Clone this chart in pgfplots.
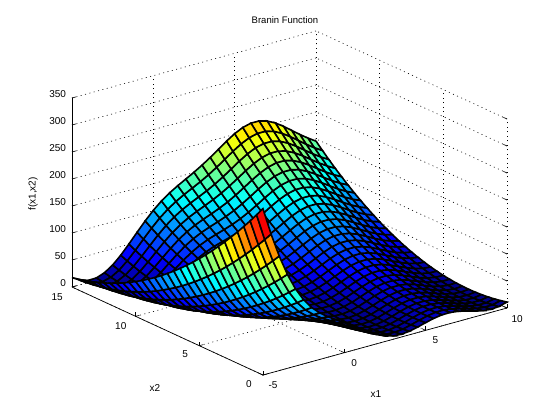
\documentclass[border=0pt]{standalone}
\usepackage{fontspec}
\setmainfont{Liberation Sans}
\usepackage{pgfplots}
\pgfplotsset{compat=1.18}
\begin{document}
\begin{tikzpicture}[x=1pt,y=1pt]
\path[use as bounding box] (0,0) rectangle (560,420);
\begin{axis}[anchor=origin,at={(344.3pt,67.3pt)},
x={(16.27pt,4.47pt)},y={(-12.73pt,5.87pt)},z={(0pt,0.54pt)},
xmin=-5,xmax=10,ymin=0,ymax=15,zmin=0,zmax=350,
xtick={-5,0,5,10},ytick={0,5,10,15},ztick={0,50,...,350},
xtick pos=lower,ytick pos=lower,ztick pos=lower,
grid=major,grid style={black,line width=0.6pt,dash pattern=on 1pt off 3.5pt},
axis line style={draw=none},
tick style={black,line width=0.6pt},major tick length=4pt,
tick label style={font=\fontsize{10}{11}\selectfont},
xticklabel style={xshift=5pt,yshift=-2.5pt},
yticklabel style={xshift=-8.5pt,yshift=-1.5pt},
zticklabel style={xshift=-2.5pt,yshift=3pt},
/pgf/number format/assume math mode=true,
colormap={mjet}{rgb=(0,0,.5) rgb=(0,0,1) rgb=(0,.5,1) rgb=(0,1,1) rgb=(.5,1,.5) rgb=(1,1,0) rgb=(1,.5,0) rgb=(1,0,0) rgb=(.5,0,0)},
point meta min=0,point meta max=310,clip=false]
\addplot3[surf,shader=faceted,faceted color=black,line width=1.6pt,z buffer=sort,mesh/ordering=y varies,mesh/rows=31,mesh/cols=31] coordinates {
(-5,0,308.1)(-5,.5,291.2)(-5,1,274.7)(-5,1.5,258.8)(-5,2,243.4)(-5,2.5,228.4)(-5,3,214)(-5,3.5,200.1)(-5,4,186.6)(-5,4.5,173.7)(-5,5,161.2)(-5,5.5,149.3)(-5,6,137.9)(-5,6.5,126.9)(-5,7,116.5)(-5,7.5,106.6)(-5,8,97.1)(-5,8.5,88.2)(-5,9,79.8)(-5,9.5,71.8)(-5,10,64.4)(-5,10.5,57.4)(-5,11,51)(-5,11.5,45.1)(-5,12,39.6)(-5,12.5,34.7)(-5,13,30.3)(-5,13.5,26.3)(-5,14,22.9)(-5,14.5,19.9)(-5,15,17.5)
(-4.5,0,256.9)(-4.5,.5,241.4)(-4.5,1,226.4)(-4.5,1.5,211.8)(-4.5,2,197.8)(-4.5,2.5,184.3)(-4.5,3,171.3)(-4.5,3.5,158.7)(-4.5,4,146.7)(-4.5,4.5,135.2)(-4.5,5,124.2)(-4.5,5.5,113.6)(-4.5,6,103.6)(-4.5,6.5,94.1)(-4.5,7,85)(-4.5,7.5,76.5)(-4.5,8,68.5)(-4.5,8.5,61)(-4.5,9,53.9)(-4.5,9.5,47.4)(-4.5,10,41.4)(-4.5,10.5,35.8)(-4.5,11,30.8)(-4.5,11.5,26.3)(-4.5,12,22.3)(-4.5,12.5,18.7)(-4.5,13,15.7)(-4.5,13.5,13.2)(-4.5,14,11.1)(-4.5,14.5,9.6)(-4.5,15,8.6)
(-4,0,212)(-4,.5,197.9)(-4,1,184.2)(-4,1.5,171)(-4,2,158.3)(-4,2.5,146.1)(-4,3,134.4)(-4,3.5,123.3)(-4,4,112.6)(-4,4.5,102.4)(-4,5,92.7)(-4,5.5,83.5)(-4,6,74.8)(-4,6.5,66.7)(-4,7,59)(-4,7.5,51.8)(-4,8,45.1)(-4,8.5,38.9)(-4,9,33.2)(-4,9.5,28.1)(-4,10,23.4)(-4,10.5,19.2)(-4,11,15.5)(-4,11.5,12.3)(-4,12,9.6)(-4,12.5,7.5)(-4,13,5.8)(-4,13.5,4.6)(-4,14,3.9)(-4,14.5,3.7)(-4,15,4)
(-3.5,0,174)(-3.5,.5,161.1)(-3.5,1,148.7)(-3.5,1.5,136.8)(-3.5,2,125.4)(-3.5,2.5,114.5)(-3.5,3,104.1)(-3.5,3.5,94.2)(-3.5,4,84.8)(-3.5,4.5,75.9)(-3.5,5,67.5)(-3.5,5.5,59.6)(-3.5,6,52.2)(-3.5,6.5,45.3)(-3.5,7,38.9)(-3.5,7.5,33)(-3.5,8,27.6)(-3.5,8.5,22.7)(-3.5,9,18.3)(-3.5,9.5,14.4)(-3.5,10,11)(-3.5,10.5,8.1)(-3.5,11,5.7)(-3.5,11.5,3.7)(-3.5,12,2.3)(-3.5,12.5,1.4)(-3.5,13,1)(-3.5,13.5,1.1)(-3.5,14,1.7)(-3.5,14.5,2.8)(-3.5,15,4.4)
(-3,0,143)(-3,.5,131.3)(-3,1,120.1)(-3,1.5,109.4)(-3,2,99.2)(-3,2.5,89.6)(-3,3,80.4)(-3,3.5,71.7)(-3,4,63.5)(-3,4.5,55.8)(-3,5,48.6)(-3,5.5,41.9)(-3,6,35.7)(-3,6.5,30.1)(-3,7,24.9)(-3,7.5,20.2)(-3,8,16)(-3,8.5,12.3)(-3,9,9.1)(-3,9.5,6.4)(-3,10,4.2)(-3,10.5,2.6)(-3,11,1.4)(-3,11.5,.7)(-3,12,.5)(-3,12.5,.8)(-3,13,1.6)(-3,13.5,2.9)(-3,14,4.8)(-3,14.5,7.1)(-3,15,9.9)
(-2.5,0,118.7)(-2.5,.5,108.1)(-2.5,1,98.1)(-2.5,1.5,88.5)(-2.5,2,79.5)(-2.5,2.5,71)(-2.5,3,62.9)(-2.5,3.5,55.4)(-2.5,4,48.4)(-2.5,4.5,41.8)(-2.5,5,35.8)(-2.5,5.5,30.3)(-2.5,6,25.2)(-2.5,6.5,20.7)(-2.5,7,16.6)(-2.5,7.5,13.1)(-2.5,8,10.1)(-2.5,8.5,7.5)(-2.5,9,5.5)(-2.5,9.5,4)(-2.5,10,2.9)(-2.5,10.5,2.4)(-2.5,11,2.4)(-2.5,11.5,2.8)(-2.5,12,3.8)(-2.5,12.5,5.3)(-2.5,13,7.2)(-2.5,13.5,9.7)(-2.5,14,12.6)(-2.5,14.5,16.1)(-2.5,15,20.1)
(-2,0,100.1)(-2,.5,90.6)(-2,1,81.7)(-2,1.5,73.2)(-2,2,65.3)(-2,2.5,57.8)(-2,3,50.9)(-2,3.5,44.4)(-2,4,38.5)(-2,4.5,33)(-2,5,28.1)(-2,5.5,23.6)(-2,6,19.7)(-2,6.5,16.2)(-2,7,13.3)(-2,7.5,10.8)(-2,8,8.9)(-2,8.5,7.4)(-2,9,6.5)(-2,9.5,6)(-2,10,6.1)(-2,10.5,6.6)(-2,11,7.7)(-2,11.5,9.2)(-2,12,11.3)(-2,12.5,13.8)(-2,13,16.9)(-2,13.5,20.4)(-2,14,24.5)(-2,14.5,29)(-2,15,34.1)
(-1.5,0,86)(-1.5,.5,77.6)(-1.5,1,69.6)(-1.5,1.5,62.2)(-1.5,2,55.3)(-1.5,2.5,48.9)(-1.5,3,42.9)(-1.5,3.5,37.5)(-1.5,4,32.6)(-1.5,4.5,28.1)(-1.5,5,24.2)(-1.5,5.5,20.8)(-1.5,6,17.9)(-1.5,6.5,15.4)(-1.5,7,13.5)(-1.5,7.5,12.1)(-1.5,8,11.1)(-1.5,8.5,10.7)(-1.5,9,10.8)(-1.5,9.5,11.4)(-1.5,10,12.4)(-1.5,10.5,14)(-1.5,11,16.1)(-1.5,11.5,18.6)(-1.5,12,21.7)(-1.5,12.5,25.3)(-1.5,13,29.4)(-1.5,13.5,33.9)(-1.5,14,39)(-1.5,14.5,44.6)(-1.5,15,50.7)
(-1,0,74.8)(-1,.5,67.3)(-1,1,60.4)(-1,1.5,53.9)(-1,2,47.9)(-1,2.5,42.5)(-1,3,37.5)(-1,3.5,33)(-1,4,29)(-1,4.5,25.6)(-1,5,22.6)(-1,5.5,20.1)(-1,6,18.2)(-1,6.5,16.7)(-1,7,15.7)(-1,7.5,15.2)(-1,8,15.3)(-1,8.5,15.8)(-1,9,16.8)(-1,9.5,18.4)(-1,10,20.4)(-1,10.5,22.9)(-1,11,25.9)(-1,11.5,29.5)(-1,12,33.5)(-1,12.5,38)(-1,13,43.1)(-1,13.5,48.6)(-1,14,54.6)(-1,14.5,61.2)(-1,15,68.2)
(-.5,0,65.1)(-.5,.5,58.5)(-.5,1,52.4)(-.5,1.5,46.8)(-.5,2,41.7)(-.5,2.5,37.2)(-.5,3,33.1)(-.5,3.5,29.5)(-.5,4,26.4)(-.5,4.5,23.9)(-.5,5,21.8)(-.5,5.5,20.2)(-.5,6,19.1)(-.5,6.5,18.5)(-.5,7,18.5)(-.5,7.5,18.9)(-.5,8,19.8)(-.5,8.5,21.2)(-.5,9,23.2)(-.5,9.5,25.6)(-.5,10,28.5)(-.5,10.5,31.9)(-.5,11,35.8)(-.5,11.5,40.3)(-.5,12,45.2)(-.5,12.5,50.6)(-.5,13,56.5)(-.5,13.5,63)(-.5,14,69.9)(-.5,14.5,77.3)(-.5,15,85.2)
(0,0,55.6)(0,.5,49.9)(0,1,44.6)(0,1.5,39.9)(0,2,35.6)(0,2.5,31.9)(0,3,28.6)(0,3.5,25.9)(0,4,23.6)(0,4.5,21.9)(0,5,20.6)(0,5.5,19.9)(0,6,19.6)(0,6.5,19.9)(0,7,20.6)(0,7.5,21.9)(0,8,23.6)(0,8.5,25.9)(0,9,28.6)(0,9.5,31.9)(0,10,35.6)(0,10.5,39.9)(0,11,44.6)(0,11.5,49.9)(0,12,55.6)(0,12.5,61.9)(0,13,68.6)(0,13.5,75.9)(0,14,83.6)(0,14.5,91.9)(0,15,100.6)
(.5,0,45.9)(.5,.5,40.9)(.5,1,36.4)(.5,1.5,32.4)(.5,2,28.9)(.5,2.5,25.9)(.5,3,23.4)(.5,3.5,21.5)(.5,4,20)(.5,4.5,19)(.5,5,18.5)(.5,5.5,18.5)(.5,6,19)(.5,6.5,20)(.5,7,21.5)(.5,7.5,23.6)(.5,8,26.1)(.5,8.5,29.1)(.5,9,32.6)(.5,9.5,36.6)(.5,10,41.1)(.5,10.5,46.1)(.5,11,51.7)(.5,11.5,57.7)(.5,12,64.2)(.5,12.5,71.2)(.5,13,78.7)(.5,13.5,86.7)(.5,14,95.2)(.5,14.5,104.2)(.5,15,113.8)
(1,0,35.8)(1,.5,31.5)(1,1,27.7)(1,1.5,24.4)(1,2,21.6)(1,2.5,19.3)(1,3,17.6)(1,3.5,16.3)(1,4,15.5)(1,4.5,15.2)(1,5,15.4)(1,5.5,16.1)(1,6,17.3)(1,6.5,19)(1,7,21.3)(1,7.5,24)(1,8,27.2)(1,8.5,30.9)(1,9,35.1)(1,9.5,39.8)(1,10,45)(1,10.5,50.7)(1,11,57)(1,11.5,63.7)(1,12,70.9)(1,12.5,78.6)(1,13,86.8)(1,13.5,95.5)(1,14,104.7)(1,14.5,114.4)(1,15,124.6)
(1.5,0,25.9)(1.5,.5,22.3)(1.5,1,19.1)(1.5,1.5,16.5)(1.5,2,14.3)(1.5,2.5,12.7)(1.5,3,11.5)(1.5,3.5,10.8)(1.5,4,10.7)(1.5,4.5,11)(1.5,5,11.9)(1.5,5.5,13.2)(1.5,6,15.1)(1.5,6.5,17.4)(1.5,7,20.3)(1.5,7.5,23.6)(1.5,8,27.5)(1.5,8.5,31.8)(1.5,9,36.7)(1.5,9.5,42)(1.5,10,47.9)(1.5,10.5,54.2)(1.5,11,61.1)(1.5,11.5,68.4)(1.5,12,76.2)(1.5,12.5,84.6)(1.5,13,93.4)(1.5,13.5,102.8)(1.5,14,112.6)(1.5,14.5,123)(1.5,15,133.8)
(2,0,17.1)(2,.5,14)(2,1,11.5)(2,1.5,9.4)(2,2,7.8)(2,2.5,6.7)(2,3,6.1)(2,3.5,6)(2,4,6.4)(2,4.5,7.4)(2,5,8.8)(2,5.5,10.7)(2,6,13.1)(2,6.5,16)(2,7,19.4)(2,7.5,23.4)(2,8,27.8)(2,8.5,32.7)(2,9,38.1)(2,9.5,44)(2,10,50.4)(2,10.5,57.4)(2,11,64.8)(2,11.5,72.7)(2,12,81.1)(2,12.5,90)(2,13,99.4)(2,13.5,109.4)(2,14,119.8)(2,14.5,130.7)(2,15,142.1)
(2.5,0,10.3)(2.5,.5,7.7)(2.5,1,5.7)(2.5,1.5,4.1)(2.5,2,3)(2.5,2.5,2.4)(2.5,3,2.3)(2.5,3.5,2.8)(2.5,4,3.7)(2.5,4.5,5.1)(2.5,5,7)(2.5,5.5,9.5)(2.5,6,12.4)(2.5,6.5,15.8)(2.5,7,19.7)(2.5,7.5,24.1)(2.5,8,29.1)(2.5,8.5,34.5)(2.5,9,40.4)(2.5,9.5,46.8)(2.5,10,53.7)(2.5,10.5,61.2)(2.5,11,69.1)(2.5,11.5,77.5)(2.5,12,86.4)(2.5,12.5,95.9)(2.5,13,105.8)(2.5,13.5,116.2)(2.5,14,127.1)(2.5,14.5,138.5)(2.5,15,150.5)
(3,0,6.2)(3,.5,4.1)(3,1,2.4)(3,1.5,1.3)(3,2,.6)(3,2.5,.5)(3,3,.9)(3,3.5,1.7)(3,4,3.1)(3,4.5,5)(3,5,7.3)(3,5.5,10.2)(3,6,13.5)(3,6.5,17.4)(3,7,21.8)(3,7.5,26.6)(3,8,32)(3,8.5,37.9)(3,9,44.2)(3,9.5,51.1)(3,10,58.4)(3,10.5,66.3)(3,11,74.7)(3,11.5,83.5)(3,12,92.9)(3,12.5,102.7)(3,13,113.1)(3,13.5,124)(3,14,135.3)(3,14.5,147.2)(3,15,159.6)
(3.5,0,5.1)(3.5,.5,3.3)(3.5,1,2)(3.5,1.5,1.3)(3.5,2,1)(3.5,2.5,1.3)(3.5,3,2)(3.5,3.5,3.2)(3.5,4,5)(3.5,4.5,7.2)(3.5,5,9.9)(3.5,5.5,13.2)(3.5,6,16.9)(3.5,6.5,21.2)(3.5,7,25.9)(3.5,7.5,31.1)(3.5,8,36.9)(3.5,8.5,43.1)(3.5,9,49.8)(3.5,9.5,57.1)(3.5,10,64.8)(3.5,10.5,73.1)(3.5,11,81.8)(3.5,11.5,91)(3.5,12,100.8)(3.5,12.5,111)(3.5,13,121.8)(3.5,13.5,133)(3.5,14,144.7)(3.5,14.5,157)(3.5,15,169.7)
(4,0,6.6)(4,.5,5.2)(4,1,4.2)(4,1.5,3.8)(4,2,3.8)(4,2.5,4.4)(4,3,5.4)(4,3.5,7)(4,4,9)(4,4.5,11.6)(4,5,14.6)(4,5.5,18.2)(4,6,22.2)(4,6.5,26.8)(4,7,31.8)(4,7.5,37.4)(4,8,43.4)(4,8.5,50)(4,9,57)(4,9.5,64.5)(4,10,72.6)(4,10.5,81.1)(4,11,90.2)(4,11.5,99.7)(4,12,109.8)(4,12.5,120.3)(4,13,131.4)(4,13.5,142.9)(4,14,155)(4,14.5,167.5)(4,15,180.6)
(4.5,0,10.1)(4.5,.5,8.9)(4.5,1,8.2)(4.5,1.5,8)(4.5,2,8.3)(4.5,2.5,9.1)(4.5,3,10.4)(4.5,3.5,12.2)(4.5,4,14.5)(4.5,4.5,17.3)(4.5,5,20.6)(4.5,5.5,24.4)(4.5,6,28.7)(4.5,6.5,33.4)(4.5,7,38.7)(4.5,7.5,44.5)(4.5,8,50.8)(4.5,8.5,57.6)(4.5,9,64.9)(4.5,9.5,72.7)(4.5,10,81)(4.5,10.5,89.8)(4.5,11,99.1)(4.5,11.5,108.9)(4.5,12,119.2)(4.5,12.5,130)(4.5,13,141.3)(4.5,13.5,153.1)(4.5,14,165.4)(4.5,14.5,178.2)(4.5,15,191.5)
(5,0,14.3)(5,.5,13.3)(5,1,12.8)(5,1.5,12.8)(5,2,13.3)(5,2.5,14.2)(5,3,15.7)(5,3.5,17.7)(5,4,20.2)(5,4.5,23.1)(5,5,26.6)(5,5.5,30.6)(5,6,35.1)(5,6.5,40.1)(5,7,45.5)(5,7.5,51.5)(5,8,58)(5,8.5,65)(5,9,72.4)(5,9.5,80.4)(5,10,88.9)(5,10.5,97.9)(5,11,107.4)(5,11.5,117.3)(5,12,127.8)(5,12.5,138.8)(5,13,150.3)(5,13.5,162.2)(5,14,174.7)(5,14.5,187.7)(5,15,201.2)
(5.5,0,18.1)(5.5,.5,17.2)(5.5,1,16.8)(5.5,1.5,16.9)(5.5,2,17.5)(5.5,2.5,18.6)(5.5,3,20.2)(5.5,3.5,22.3)(5.5,4,24.9)(5.5,4.5,28)(5.5,5,31.6)(5.5,5.5,35.7)(5.5,6,40.3)(5.5,6.5,45.4)(5.5,7,51)(5.5,7.5,57.1)(5.5,8,63.7)(5.5,8.5,70.8)(5.5,9,78.4)(5.5,9.5,86.5)(5.5,10,95.1)(5.5,10.5,104.2)(5.5,11,113.7)(5.5,11.5,123.8)(5.5,12,134.4)(5.5,12.5,145.5)(5.5,13,157.1)(5.5,13.5,169.2)(5.5,14,181.8)(5.5,14.5,194.9)(5.5,15,208.5)
(6,0,20.4)(6,.5,19.6)(6,1,19.2)(6,1.5,19.4)(6,2,20)(6,2.5,21.2)(6,3,22.8)(6,3.5,25)(6,4,27.6)(6,4.5,30.8)(6,5,34.4)(6,5.5,38.6)(6,6,43.2)(6,6.5,48.4)(6,7,54)(6,7.5,60.2)(6,8,66.8)(6,8.5,74)(6,9,81.6)(6,9.5,89.8)(6,10,98.4)(6,10.5,107.6)(6,11,117.2)(6,11.5,127.4)(6,12,138)(6,12.5,149.2)(6,13,160.8)(6,13.5,173)(6,14,185.6)(6,14.5,198.8)(6,15,212.4)
(6.5,0,20.6)(6.5,.5,19.8)(6.5,1,19.4)(6.5,1.5,19.5)(6.5,2,20.2)(6.5,2.5,21.3)(6.5,3,22.9)(6.5,3.5,25.1)(6.5,4,27.7)(6.5,4.5,30.9)(6.5,5,34.5)(6.5,5.5,38.6)(6.5,6,43.3)(6.5,6.5,48.4)(6.5,7,54)(6.5,7.5,60.2)(6.5,8,66.8)(6.5,8.5,74)(6.5,9,81.6)(6.5,9.5,89.7)(6.5,10,98.4)(6.5,10.5,107.5)(6.5,11,117.1)(6.5,11.5,127.3)(6.5,12,137.9)(6.5,12.5,149)(6.5,13,160.7)(6.5,13.5,172.8)(6.5,14,185.5)(6.5,14.5,198.6)(6.5,15,212.2)
(7,0,18.7)(7,.5,17.7)(7,1,17.3)(7,1.5,17.3)(7,2,17.9)(7,2.5,19)(7,3,20.5)(7,3.5,22.6)(7,4,25.1)(7,4.5,28.2)(7,5,31.8)(7,5.5,35.8)(7,6,40.4)(7,6.5,45.5)(7,7,51)(7,7.5,57.1)(7,8,63.6)(7,8.5,70.7)(7,9,78.3)(7,9.5,86.3)(7,10,94.9)(7,10.5,103.9)(7,11,113.5)(7,11.5,123.6)(7,12,134.1)(7,12.5,145.2)(7,13,156.7)(7,13.5,168.8)(7,14,181.4)(7,14.5,194.4)(7,15,208)
(7.5,0,15.1)(7.5,.5,14)(7.5,1,13.4)(7.5,1.5,13.4)(7.5,2,13.8)(7.5,2.5,14.7)(7.5,3,16.1)(7.5,3.5,18)(7.5,4,20.5)(7.5,4.5,23.4)(7.5,5,26.8)(7.5,5.5,30.7)(7.5,6,35.1)(7.5,6.5,40.1)(7.5,7,45.5)(7.5,7.5,51.4)(7.5,8,57.8)(7.5,8.5,64.7)(7.5,9,72.2)(7.5,9.5,80.1)(7.5,10,88.5)(7.5,10.5,97.4)(7.5,11,106.8)(7.5,11.5,116.8)(7.5,12,127.2)(7.5,12.5,138.1)(7.5,13,149.5)(7.5,13.5,161.4)(7.5,14,173.9)(7.5,14.5,186.8)(7.5,15,200.2)
(8,0,11)(8,.5,9.7)(8,1,8.9)(8,1.5,8.6)(8,2,8.8)(8,2.5,9.5)(8,3,10.8)(8,3.5,12.5)(8,4,14.7)(8,4.5,17.4)(8,5,20.6)(8,5.5,24.3)(8,6,28.5)(8,6.5,33.3)(8,7,38.5)(8,7.5,44.2)(8,8,50.4)(8,8.5,57.1)(8,9,64.3)(8,9.5,72)(8,10,80.3)(8,10.5,89)(8,11,98.2)(8,11.5,107.9)(8,12,118.1)(8,12.5,128.8)(8,13,140.1)(8,13.5,151.8)(8,14,164)(8,14.5,176.7)(8,15,189.9)
(8.5,0,7.5)(8.5,.5,5.9)(8.5,1,4.9)(8.5,1.5,4.3)(8.5,2,4.3)(8.5,2.5,4.7)(8.5,3,5.7)(8.5,3.5,7.1)(8.5,4,9)(8.5,4.5,11.5)(8.5,5,14.4)(8.5,5.5,17.9)(8.5,6,21.8)(8.5,6.5,26.3)(8.5,7,31.2)(8.5,7.5,36.7)(8.5,8,42.6)(8.5,8.5,49)(8.5,9,56)(8.5,9.5,63.4)(8.5,10,71.4)(8.5,10.5,79.8)(8.5,11,88.8)(8.5,11.5,98.2)(8.5,12,108.2)(8.5,12.5,118.6)(8.5,13,129.6)(8.5,13.5,141)(8.5,14,152.9)(8.5,14.5,165.4)(8.5,15,178.3)
(9,0,5.8)(9,.5,3.9)(9,1,2.6)(9,1.5,1.7)(9,2,1.3)(9,2.5,1.4)(9,3,2)(9,3.5,3.1)(9,4,4.7)(9,4.5,6.8)(9,5,9.4)(9,5.5,12.5)(9,6,16.2)(9,6.5,20.3)(9,7,24.9)(9,7.5,30)(9,8,35.6)(9,8.5,41.7)(9,9,48.3)(9,9.5,55.4)(9,10,63)(9,10.5,71.1)(9,11,79.8)(9,11.5,88.9)(9,12,98.5)(9,12.5,108.6)(9,13,119.2)(9,13.5,130.3)(9,14,141.9)(9,14.5,154)(9,15,166.6)
(9.5,0,6.9)(9.5,.5,4.6)(9.5,1,2.8)(9.5,1.5,1.5)(9.5,2,.7)(9.5,2.5,.4)(9.5,3,.6)(9.5,3.5,1.4)(9.5,4,2.6)(9.5,4.5,4.3)(9.5,5,6.5)(9.5,5.5,9.2)(9.5,6,12.4)(9.5,6.5,16.1)(9.5,7,20.3)(9.5,7.5,25)(9.5,8,30.3)(9.5,8.5,36)(9.5,9,42.2)(9.5,9.5,48.9)(9.5,10,56.1)(9.5,10.5,63.8)(9.5,11,72)(9.5,11.5,80.7)(9.5,12,89.9)(9.5,12.5,99.7)(9.5,13,109.9)(9.5,13.5,120.6)(9.5,14,131.8)(9.5,14.5,143.5)(9.5,15,155.7)
(10,0,11)(10,.5,8.2)(10,1,6)(10,1.5,4.2)(10,2,3)(10,2.5,2.2)(10,3,1.9)(10,3.5,2.2)(10,4,2.9)(10,4.5,4.2)(10,5,5.9)(10,5.5,8.2)(10,6,10.9)(10,6.5,14.2)(10,7,17.9)(10,7.5,22.2)(10,8,26.9)(10,8.5,32.2)(10,9,37.9)(10,9.5,44.2)(10,10,50.9)(10,10.5,58.2)(10,11,65.9)(10,11.5,74.1)(10,12,82.9)(10,12.5,92.1)(10,13,101.9)(10,13.5,112.1)(10,14,122.9)(10,14.5,134.1)(10,15,145.9)
};
\draw[black,line width=0.7pt] (axis cs:-5,0,0)--(axis cs:10,0,0);
\draw[black,line width=0.7pt] (axis cs:-5,0,0)--(axis cs:-5,15,0);
\draw[black,line width=0.7pt] (axis cs:-5,15,0)--(axis cs:-5,15,350);
\end{axis}
\node[font=\fontsize{9.5}{11}\selectfont] at (285,399.5) {Branin Function};
\node[font=\fontsize{10}{11}\selectfont] at (376,26) {x1};
\node[font=\fontsize{10}{11}\selectfont] at (155,32) {x2};
\node[font=\fontsize{10}{11}\selectfont,rotate=90] at (33,226) {f(x1,x2)};
\end{tikzpicture}
\end{document}
